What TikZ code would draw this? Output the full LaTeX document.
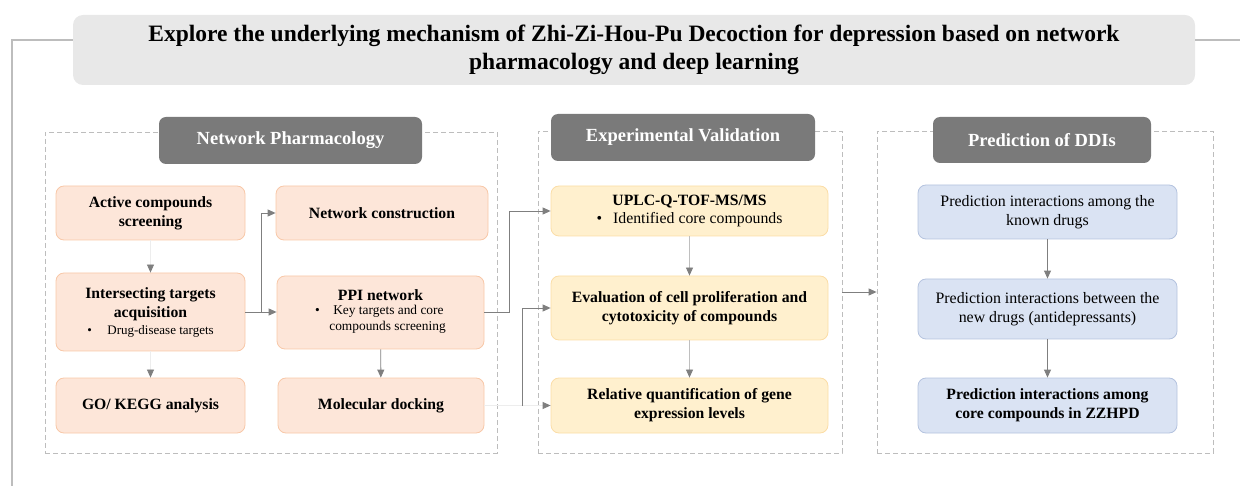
\documentclass[tikz,border=0pt]{standalone}
\usepackage{fontspec}
\setmainfont{Liberation Serif}
\usepackage{tikz}
\usetikzlibrary{arrows.meta}
\definecolor{pinkfill}{HTML}{FDE6D9}
\definecolor{pinkline}{HTML}{F8C8A8}
\definecolor{yelfill}{HTML}{FFF0CE}
\definecolor{yelline}{HTML}{FBDDA6}
\definecolor{bluefill}{HTML}{DAE3F3}
\definecolor{blueline}{HTML}{B4C3DF}
\definecolor{headgray}{HTML}{7A7A7A}
\definecolor{titlegray}{HTML}{E8E8E8}
\definecolor{framegray}{HTML}{BDBDBD}
\definecolor{arrowgray}{HTML}{7F7F7F}

\begin{document}
\begin{tikzpicture}[x=1pt,y=-1pt,
  box/.style={rounded corners=8pt,line width=.8pt,align=center,inner sep=2pt,font=\fontsize{15.7}{19}\selectfont\bfseries},
  pinkbox/.style={box,draw=pinkline,fill=pinkfill},
  yelbox/.style={box,draw=yelline,fill=yelfill},
  bluebox/.style={box,draw=blueline,fill=bluefill,font=\fontsize{15.9}{19}\selectfont},
  headbox/.style={rounded corners=7pt,fill=headgray,text=white,font=\fontsize{18.5}{22}\selectfont\bfseries},
  frame/.style={draw=framegray,dashed,line width=.8pt,dash pattern=on 5pt off 3pt},
  flow/.style={draw=arrowgray,line width=.9pt,-{Triangle[length=8pt,width=7pt]}},
  faintflow/.style={draw=black!7,line width=.8pt,-{Triangle[length=8pt,width=7pt,color=arrowgray]}},
  lightflow/.style={draw=black!25,line width=.8pt,-{Triangle[length=8pt,width=7pt,color=arrowgray]}}]
\useasboundingbox (0,0) rectangle (1240,486);

\node[rounded corners=10pt,fill=titlegray,minimum width=1122pt,minimum height=70pt,align=center,font=\fontsize{23.5}{28}\selectfont\bfseries] (title) at (634,50)
  {Explore the underlying mechanism of Zhi-Zi-Hou-Pu Decoction for depression based on network\\pharmacology and deep learning};
\coordinate (corner) at (12,40);
\coordinate (low) at (12,486);
\coordinate (rim) at (1240,40);
\draw[framegray,line width=1.2pt] (title.west|-corner) -- (corner) -- (low);
\draw[framegray,line width=1.2pt] (title.east|-rim) -- (rim);

\node[frame,minimum width=452pt,minimum height=321pt] (npframe) at (271,292.5) {};
\node[frame,minimum width=304pt,minimum height=322pt] (evframe) at (690,292) {};
\node[frame,minimum width=336pt,minimum height=322pt] (ddiframe) at (1045,292) {};

\node[headbox,minimum width=263pt,minimum height=47pt] (nphead) at (290.5,140.5) {Network Pharmacology};
\node[headbox,minimum width=264pt,minimum height=47pt] (evhead) at (683,137.5) {Experimental Validation};
\node[headbox,minimum width=218pt,minimum height=46pt] (ddihead) at (1042,140) {Prediction of DDIs};

\node[pinkbox,minimum width=189pt,minimum height=54pt] (active) at (150.5,213) {Active compounds\\screening};
\node[pinkbox,minimum width=212pt,minimum height=54pt] (netcon) at (382,213) {Network construction};
\node[pinkbox,minimum width=189pt,minimum height=78pt] (inter) at (150.5,312) {Intersecting targets\\acquisition\\[-2pt]
  {\fontsize{13}{15}\selectfont\mdseries\textbullet\hspace{1.2em}Drug-disease targets}};
\node[pinkbox,minimum width=207pt,minimum height=73pt] (ppi) at (380.5,312.5) {PPI network\\[1pt]
  {\fontsize{13.4}{16}\selectfont\mdseries\begin{tabular}{@{}l@{\hspace{1em}}l@{}}\textbullet & Key targets and core\\ & \hspace{-.3em}compounds screening\end{tabular}}};
\node[pinkbox,minimum width=189pt,minimum height=55pt] (gokegg) at (150.5,405.5) {GO/ KEGG analysis};
\node[pinkbox,minimum width=206pt,minimum height=55pt] (docking) at (381,405.5) {Molecular docking};

\node[yelbox,minimum width=277pt,minimum height=50pt] (uplc) at (689.5,211) {UPLC-Q-TOF-MS/MS\\[-1pt]
  {\fontsize{15.8}{17}\selectfont\mdseries\textbullet\hspace{.7em}Identified core compounds}};
\node[yelbox,minimum width=277pt,minimum height=64pt] (evalcell) at (689.5,308) {Evaluation of cell proliferation and\\cytotoxicity of compounds};
\node[yelbox,minimum width=277pt,minimum height=55pt] (relquant) at (689.5,405.5) {Relative quantification of gene\\expression levels};

\node[bluebox,minimum width=259pt,minimum height=54pt] (known) at (1047.5,212) {Prediction interactions among the\\known drugs};
\node[bluebox,minimum width=259pt,minimum height=60pt] (newdrug) at (1047.5,309) {Prediction interactions between the\\new drugs (antidepressants)};
\node[bluebox,minimum width=259pt,minimum height=55pt,font=\fontsize{15.7}{19}\selectfont\bfseries] (corecomp) at (1047.5,405.5) {Prediction interactions among\\core compounds in ZZHPD};

\draw[faintflow] (active) -- (inter);
\draw[faintflow] (inter) -- (gokegg);
\draw[flow] (inter.east) -- ++(16,0) |- (netcon.west);
\draw[flow] (inter.east) -- (ppi.west|-inter.east);
\draw[flow] (ppi) -- (docking);
\draw[flow] (ppi.east) -- ++(25,0) |- (uplc.west);
\draw[faintflow] (docking.east) -- (relquant.west);
\draw[flow] ([xshift=38pt]docking.east) |- (evalcell.west);
\draw[lightflow] (uplc) -- (evalcell);
\draw[lightflow] (evalcell) -- (relquant);
\draw[flow] (evframe.east) -- (ddiframe.west);
\draw[flow] (known) -- (newdrug);
\draw[flow] (newdrug) -- (corecomp);
\end{tikzpicture}
\end{document}
